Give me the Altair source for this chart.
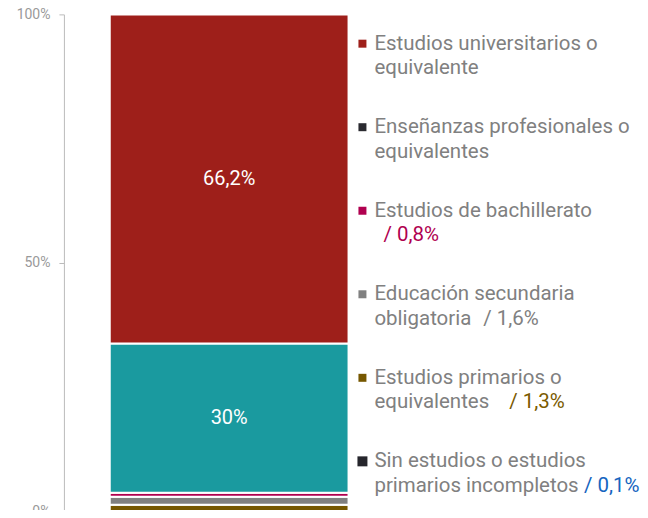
import altair as alt
import pandas as pd

# ---- data -------------------------------------------------------------
categories = [
    "Sin estudios o estudios primarios incompletos",
    "Estudios primarios o equivalentes",
    "Educación secundaria obligatoria",
    "Estudios de bachillerato",
    "Enseñanzas profesionales o equivalentes",
    "Estudios universitarios o equivalente",
]
values = [0.1, 1.3, 1.6, 0.8, 30.0, 66.2]
bar_colors = ["#2a2a30", "#765700", "#808080", "#b0004f", "#1a9a9f", "#9e1f1a"]
stack_order = [0, 1, 2, 3, 4, 5]
bar_labels = ["", "", "", "", "30%", "66,2%"]

legend_cats = [
    "Estudios universitarios o equivalente",
    "Enseñanzas profesionales o equivalentes",
    "Estudios de bachillerato",
    "Educación secundaria obligatoria",
    "Estudios primarios o equivalentes",
    "Sin estudios o estudios primarios incompletos",
]
legend_line1 = ["Estudios universitarios o", "Enseñanzas profesionales o",
                "Estudios de bachillerato", "Educación secundaria",
                "Estudios primarios o", "Sin estudios o estudios"]
legend_line2 = ["equivalente", "equivalentes", "", "obligatoria",
                "equivalentes", "primarios incompletos"]
legend_marker_colors = ["#9e1f1a", "#2a2a30", "#b0004f", "#808080", "#765700", "#26262c"]
legend_marker_sizes = [64, 64, 64, 64, 64, 100]
suffixes = ["", "", "/ 0,8%", "/ 1,6%", "/ 1,3%", "/ 0,1%"]
suffix_colors = ["#808080", "#808080", "#b0004f", "#808080", "#7a5a00", "#1565c0"]

FONT = "Roboto"
TEXT_GRAY = "#808080"
LFS = 20.5

# ---- bar chart --------------------------------------------------------
df = pd.DataFrame({
    "cat": categories,
    "value": values,
    "color": bar_colors,
    "order": stack_order,
    "label": bar_labels,
    "group": ["Total"] * len(categories),
})

xenc = alt.X("group:N", axis=None,
             scale=alt.Scale(paddingInner=0, paddingOuter=0.1, align=0.96))

bars = alt.Chart(df).mark_bar(stroke="white", strokeWidth=2).encode(
    x=xenc,
    y=alt.Y("value:Q", stack="zero", title=None,
            scale=alt.Scale(domain=[0, 100], nice=False),
            axis=alt.Axis(values=[0, 50, 100], labelExpr="datum.value + '%'",
                          grid=False, domainColor="#bbbbbb", tickColor="#bbbbbb",
                          tickSize=5, labelPadding=9, labelColor="#999999",
                          labelFontSize=14, labelFont=FONT)),
    color=alt.Color("color:N", scale=None),
    order=alt.Order("order:Q"),
)

labels = alt.Chart(df).transform_stack(
    stack="value", groupby=["group"], sort=[alt.SortField("order")], as_=["v0", "v1"]
).transform_calculate(
    mid="(datum.v0 + datum.v1) / 2"
).mark_text(color="white", fontSize=20, font=FONT, baseline="middle").encode(
    x=xenc,
    y=alt.Y("mid:Q"),
    text="label:N",
)

left = alt.layer(bars, labels).properties(width=287, height=498)

# ---- custom legend ----------------------------------------------------
ldf = pd.DataFrame({
    "cat": legend_cats,
    "line1": legend_line1,
    "line2": legend_line2,
    "mcolor": legend_marker_colors,
    "msize": legend_marker_sizes,
    "suffix": suffixes,
    "scolor": suffix_colors,
})

yscale = alt.Scale(domain=legend_cats, paddingInner=0, paddingOuter=0)
yenc = alt.Y("cat:N", scale=yscale, axis=None, sort=legend_cats)
D1, D2 = -12.5, 12.0

lbase = alt.Chart(ldf)

markers = lbase.mark_square(opacity=1).encode(
    x=alt.value(12), y=yenc, yOffset=alt.value(D1),
    size=alt.Size("msize:Q", scale=None),
    color=alt.Color("mcolor:N", scale=None))

text1 = lbase.mark_text(align="left", baseline="middle", fontSize=LFS, font=FONT,
                        color=TEXT_GRAY, dy=D1).encode(x=alt.value(24), y=yenc, text="line1:N")
text2 = lbase.mark_text(align="left", baseline="middle", fontSize=LFS, font=FONT,
                        color=TEXT_GRAY, dy=D2).encode(x=alt.value(24), y=yenc, text="line2:N")

suffix_dx = {"Estudios de bachillerato": 9,
             "Educación secundaria obligatoria": 109,
             "Estudios primarios o equivalentes": 135,
             "Sin estudios o estudios primarios incompletos": 210}
suffix_layers = []
for c, dx in suffix_dx.items():
    suffix_layers.append(
        lbase.transform_filter(alt.datum.cat == c).mark_text(
            align="left", baseline="middle", fontSize=LFS, font=FONT, dx=dx, dy=D2
        ).encode(x=alt.value(24), y=yenc, text="suffix:N",
                 color=alt.Color("scolor:N", scale=None))
    )

legend = alt.layer(markers, text1, text2, *suffix_layers).properties(width=270, height=502)

chart = alt.hconcat(left, legend, spacing=0).properties(
    padding={"left": 8, "top": -1, "right": 0, "bottom": -12}
).configure_view(stroke=None)

chart.save("out.html", embed_options={"renderer": "svg", "actions": False})
